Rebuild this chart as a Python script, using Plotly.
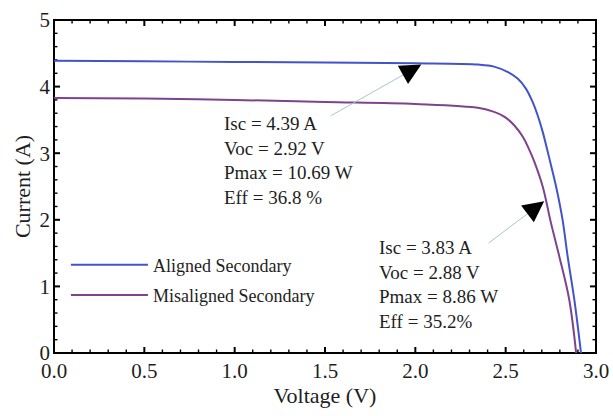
import numpy as np
import plotly.graph_objects as go

# Data
aligned_v = [0.0, 0.5, 1.0, 1.5, 2.0, 2.35, 2.436, 2.510, 2.566, 2.612, 2.649, 2.677, 2.705,
             2.733, 2.751, 2.779, 2.815, 2.843, 2.880, 2.917]
aligned_i = [4.39, 4.38, 4.37, 4.36, 4.35, 4.33, 4.30, 4.22, 4.12, 3.97, 3.77, 3.57, 3.32,
             3.02, 2.82, 2.50, 2.00, 1.45, 0.80, 0.0]

misaligned_v = [0.0, 0.5, 1.0, 1.5, 2.0, 2.354, 2.436, 2.492, 2.547, 2.594, 2.631, 2.659,
                2.705, 2.751, 2.797, 2.852, 2.890]
misaligned_i = [3.83, 3.82, 3.80, 3.77, 3.74, 3.68, 3.62, 3.55, 3.42, 3.25, 3.05, 2.87,
                2.50, 1.95, 1.45, 0.80, 0.0]

series_names = ["Aligned Secondary", "Misaligned Secondary"]
text_aligned = ["Isc = 4.39 A", "Voc = 2.92 V", "Pmax = 10.69 W", "Eff = 36.8 %"]
text_misaligned = ["Isc = 3.83 A", "Voc = 2.88 V", "Pmax = 8.86 W", "Eff = 35.2%"]

x_ticks = [0.0, 0.5, 1.0, 1.5, 2.0, 2.5, 3.0]
y_ticks = [0, 1, 2, 3, 4, 5]
x_minor_step = 0.1
y_minor_step = 0.2

FONT = "Liberation Serif, Times New Roman, serif"
BLUE = "#4254c8"
PURPLE = "#7f428d"
TXT = "#1e1e1e"

W, H = 613, 416
ML, MR, MT, MB = 54, 17, 20, 63
PW, PH = W - ML - MR, H - MT - MB   # plot area size in pixels

fig = go.Figure()
fig.add_trace(go.Scatter(x=aligned_v, y=aligned_i, mode="lines", name=series_names[0],
                         line=dict(color=BLUE, width=2, shape="spline", smoothing=1.0),
                         legendgroup="a"))
fig.add_trace(go.Scatter(x=misaligned_v, y=misaligned_i, mode="lines", name=series_names[1],
                         line=dict(color=PURPLE, width=2, shape="spline", smoothing=1.0),
                         legendgroup="b"))

# Text annotations
fig.add_annotation(x=0.928, y=2.89, xref="x", yref="y", text="<br>".join(text_aligned),
                   showarrow=False, xanchor="left", yanchor="middle", align="left",
                   font=dict(family=FONT, size=19, color=TXT))
fig.add_annotation(x=1.79, y=1.03, xref="x", yref="y", text="<br>".join(text_misaligned),
                   showarrow=False, xanchor="left", yanchor="middle", align="left",
                   font=dict(family=FONT, size=19, color=TXT))

# Arrows: thin grey shaft + black head
for tip, shaft, head in [((2.033, 4.33), (-92, 52), (-18, 10)),
                         ((2.713, 2.28), (-57, 43), (-17, 13))]:
    fig.add_annotation(x=tip[0], y=tip[1], xref="x", yref="y", ax=shaft[0], ay=shaft[1],
                       text="", showarrow=True, arrowhead=0, arrowwidth=1, arrowcolor="#a9c6cc")
    fig.add_annotation(x=tip[0], y=tip[1], xref="x", yref="y", ax=head[0], ay=head[1],
                       text="", showarrow=True, arrowhead=2, arrowsize=2.8, arrowwidth=1.5,
                       arrowcolor="black")

# Frame: a black filled rectangle with a white one inset by 1px on each side -> 2px border
px_x = 1.0 / PW   # one pixel in paper units (x)
px_y = 1.0 / PH   # one pixel in paper units (y)
fig.add_shape(type="rect", xref="paper", yref="paper",
              x0=-px_x, x1=1 + px_x, y0=-px_y, y1=1 + px_y,
              fillcolor="black", line=dict(width=0), opacity=1, layer="below")
fig.add_shape(type="rect", xref="paper", yref="paper",
              x0=px_x, x1=1 - px_x, y0=px_y, y1=1 - px_y,
              fillcolor="white", line=dict(width=0), opacity=1, layer="below")

# Inside tick marks on all four sides, as small filled rectangles
x_minor = np.round(np.arange(x_ticks[0], x_ticks[-1] + 1e-9, x_minor_step), 6)
y_minor = np.round(np.arange(y_ticks[0], y_ticks[-1] + 1e-9, y_minor_step), 6)
x_per_px = (x_ticks[-1] - x_ticks[0]) / PW
y_per_px = (y_ticks[-1] - y_ticks[0]) / PH

def is_major(v, majors):
    return any(abs(v - m) < 1e-6 for m in majors)

for v in x_minor:
    L, w = (6, 2) if is_major(v, x_ticks) else (3.5, 1.4)
    for ya, yb in [(0, L * px_y), (1 - L * px_y, 1)]:
        fig.add_shape(type="rect", xref="x", yref="paper",
                      x0=float(v) - w / 2 * x_per_px, x1=float(v) + w / 2 * x_per_px,
                      y0=ya, y1=yb, fillcolor="black", line=dict(width=0),
                      opacity=1, layer="below")
for v in y_minor:
    L, w = (6, 2) if is_major(v, y_ticks) else (3.5, 1.4)
    for xa, xb in [(0, L * px_x), (1 - L * px_x, 1)]:
        fig.add_shape(type="rect", xref="paper", yref="y",
                      x0=xa, x1=xb,
                      y0=float(v) - w / 2 * y_per_px, y1=float(v) + w / 2 * y_per_px,
                      fillcolor="black", line=dict(width=0), opacity=1, layer="below")

def axis(title, ticks, fmt):
    return dict(
        range=[ticks[0], ticks[-1]], tickmode="linear", tick0=ticks[0],
        dtick=ticks[1] - ticks[0], tickformat=fmt,
        showline=False, ticks="", showgrid=False, zeroline=False, automargin=False,
        ticklabeloverflow="allow", ticklabelstandoff=3,
        tickfont=dict(family=FONT, size=21, color=TXT),
        title=dict(text=title, font=dict(family=FONT, size=22, color=TXT), standoff=2),
    )

fig.update_layout(
    template="none",
    width=W, height=H,
    margin=dict(l=ML, r=MR, t=MT, b=MB),
    plot_bgcolor="white", paper_bgcolor="white",
    xaxis=axis("Voltage (V)", x_ticks, ".1f"),
    yaxis=axis("Current (A)", y_ticks, "d"),
    showlegend=True,
    legend=dict(x=0.022, y=0.32, xanchor="left", yanchor="top",
                bgcolor="rgba(0,0,0,0)", borderwidth=0,
                font=dict(family=FONT, size=18, color=TXT),
                tracegroupgap=4, itemwidth=77, traceorder="grouped"),
)

# Remove the default page margin so the figure fills the window exactly.
fig.write_html("out.html", config={"displayModeBar": False},
               post_script="document.body.style.margin='0';document.body.style.overflow='hidden';")
